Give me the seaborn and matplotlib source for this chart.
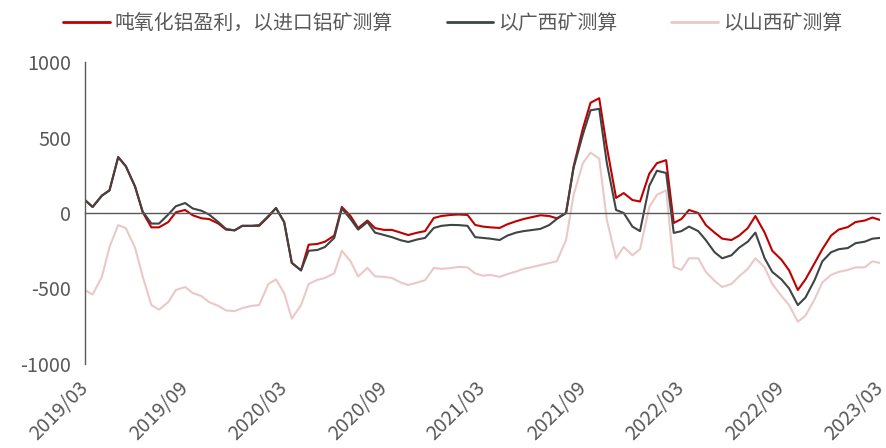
import matplotlib
matplotlib.use("Agg")
import matplotlib.pyplot as plt
import matplotlib.dates as mdates
from matplotlib.lines import Line2D
import pandas as pd
import seaborn as sns

# Semi-monthly observation dates, 2019-03 .. 2023-03
dates = pd.date_range("2019-03-01", "2023-03-01", freq="SMS")

# Alumina profit per tonne (yuan/t) under three bauxite sources
import_ore = [
    86, 40, 115, 150, 370, 310, 175, 5, -95, -95, -60, 5, 20, -15, -35, -40,
    -70, -110, -115, -85, -85, -85, -25, 33, -60, -330, -380, -210, -205, -190,
    -150, 40, -20, -100, -50, -100, -112, -112, -130, -146, -130, -120, -33, -20,
    -13, -10, -13, -79, -90, -95, -99, -75, -55, -40, -26, -15, -20, -35, 0, 310,
    560, 730, 760, 437, 100, 132, 86, 76, 260, 330, 350, -66, -40, 20, 0, -80,
    -130, -170, -179, -150, -100, -20, -130, -250, -310, -380, -510, -440, -331,
    -240, -150, -110, -93, -60, -50, -30, -46,
]
guangxi_ore = [
    86, 40, 115, 150, 370, 310, 175, 10, -70, -70, -10, 45, 66, 30, 15, -10,
    -60, -105, -115, -85, -85, -80, -20, 33, -60, -330, -380, -250, -245, -225,
    -165, 30, -40, -110, -60, -130, -146, -160, -180, -192, -175, -165, -99, -85,
    -79, -80, -85, -160, -165, -170, -179, -150, -130, -120, -112, -105, -80, -40,
    0, 300, 520, 680, 690, 331, 20, 0, -90, -120, 180, 280, 265, -132, -120, -90,
    -120, -180, -260, -300, -280, -230, -190, -130, -300, -390, -440, -500, -610,
    -560, -443, -320, -260, -240, -232, -200, -190, -170, -165,
]
shanxi_ore = [
    -510, -540, -423, -225, -80, -100, -230, -420, -610, -640, -590, -510, -490,
    -530, -550, -590, -615, -645, -650, -630, -615, -610, -470, -440, -530, -700,
    -610, -470, -443, -430, -400, -250, -320, -420, -364, -420, -423, -430, -460,
    -477, -460, -445, -364, -370, -365, -357, -360, -400, -415, -410, -423, -405,
    -388, -370, -357, -345, -331, -320, -179, 120, 330, 400, 360, -46, -300, -225,
    -280, -240, 40, 120, 150, -357, -377, -300, -300, -390, -450, -490, -470, -420,
    -370, -300, -360, -470, -550, -610, -720, -680, -570, -460, -410, -390, -377,
    -360, -360, -320, -331,
]

series_names = ["吨氧化铝盈利，以进口铝矿测算", "以广西矿测算", "以山西矿测算"]
series_colors = ["#C00000", "#3F4444", "#EBC8C8"]

tick_dates = pd.date_range("2019-03-01", "2023-03-01", freq="6MS")
tick_labels = ["2019/03", "2019/09", "2020/03", "2020/09", "2021/03",
               "2021/09", "2022/03", "2022/09", "2023/03"]
y_ticks = [-1000, -500, 0, 500, 1000]

df = pd.DataFrame({
    "date": dates,
    series_names[0]: import_ore,
    series_names[1]: guangxi_ore,
    series_names[2]: shanxi_ore,
})
long_df = df.melt(id_vars="date", var_name="series", value_name="profit")

sns.set_theme(style="white")
plt.rcParams["font.family"] = ["Noto Sans CJK SC", "DejaVu Sans"]
plt.rcParams["font.weight"] = "light"
plt.rcParams["axes.unicode_minus"] = False

text_color = "#595959"
fs = 14.3

fig = plt.figure(figsize=(8.86, 4.48), dpi=100)
ax = fig.add_axes([85 / 886, 1 - 364 / 448, 795 / 886, 302 / 448])

# Shanxi underneath, then imported ore, Guangxi on top
for idx in (2, 0, 1):
    sns.lineplot(
        data=long_df[long_df["series"] == series_names[idx]],
        x="date", y="profit", color=series_colors[idx],
        linewidth=1.5, ax=ax, legend=False,
    )

ax.set_xlim(dates[0], dates[-1])
ax.set_ylim(-1000, 1000)
ax.set_yticks(y_ticks)
ax.set_xlabel("")
ax.set_ylabel("")

for side in ("top", "right"):
    ax.spines[side].set_visible(False)
ax.spines["left"].set_color(text_color)
ax.spines["left"].set_linewidth(1.0)
ax.spines["bottom"].set_position(("data", 0))
ax.spines["bottom"].set_color(text_color)
ax.spines["bottom"].set_linewidth(1.0)

ax.set_xticks(mdates.date2num(tick_dates))
ax.tick_params(axis="x", direction="in", length=6, width=1.0,
               color=text_color, labelbottom=False)
ax.tick_params(axis="y", direction="in", length=5, width=1.0,
               color=text_color, labelcolor=text_color, labelsize=fs, pad=10)
ax.grid(False)

# Date labels along the bottom edge of the plot area
sec = ax.secondary_xaxis("bottom")
sec.set_xticks(mdates.date2num(tick_dates), labels=tick_labels)
sec.spines["bottom"].set_visible(False)
sec.tick_params(axis="x", length=0, pad=15, labelsize=fs, labelcolor=text_color)
for lbl in sec.get_xticklabels():
    lbl.set_rotation(45)
    lbl.set_rotation_mode("anchor")
    lbl.set_ha("right")
    lbl.set_va("center")

handles = [Line2D([0], [0], color=c, linewidth=2.0) for c in series_colors]
leg = fig.legend(
    handles, series_names, loc="center left",
    bbox_to_anchor=(63 / 886, 1 - 23 / 448), ncol=3, frameon=False,
    fontsize=fs, handlelength=2.35, handletextpad=0.25, columnspacing=2.7,
    borderpad=0, borderaxespad=0,
)
for t in leg.get_texts():
    t.set_color(text_color)

fig.savefig("out.png", dpi=100)
